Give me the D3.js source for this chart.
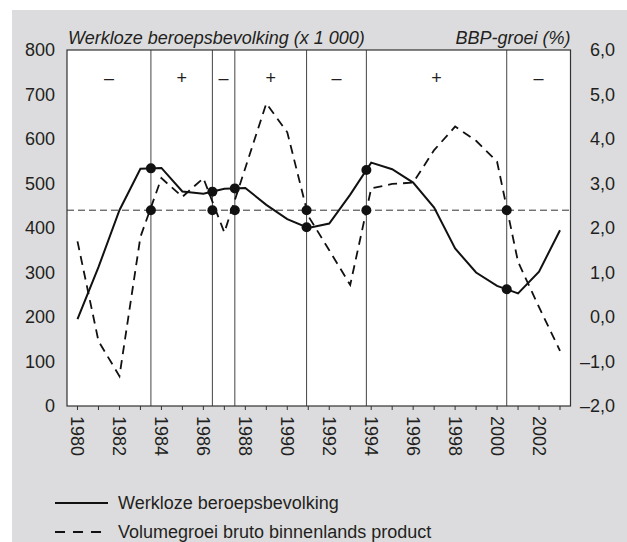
<!DOCTYPE html>
<html>
<head>
<meta charset="utf-8">
<script src="https://cdn.jsdelivr.net/npm/d3@7"></script>
<style>
  body { margin: 0; background: #fff; }
  svg text { font-family: "Liberation Sans", Arial, sans-serif; fill: #231f20; }
</style>
</head>
<body>
<div id="chart"></div>
<script>
const width = 627;
const height = 542;
const margin = ({top: 50, right: 57, bottom: 136, left: 67});
const fs = 18;

// data
const years = d3.range(1980, 2004);
const werkloos = [195, 312, 440, 533, 535, 482, 477, 488, 490, 452, 420, 400, 410, 475, 547, 532, 502, 446, 354, 300, 270, 253, 302, 395];
const bbpGroei = [1.7, -0.54, -1.33, 1.8, 3.12, 2.7, 3.12, 1.9, 3.35, 4.8, 4.15, 2.27, 1.5, 0.72, 2.89, 2.99, 3.02, 3.75, 4.28, 3.96, 3.49, 1.24, 0.22, -0.76];
const trendGroei = 2.4;
const omslagJaren = [1983.5, 1986.43, 1987.5, 1990.92, 1993.77, 2000.46];
const fasen = ['–', '+', '–', '+', '–', '+', '–'];
const leftTicks = [0, 100, 200, 300, 400, 500, 600, 700, 800];
const rightTicks = [-2, -1, 0, 1, 2, 3, 4, 5, 6];
const yearLabels = d3.range(1980, 2004, 2);

const svg = d3.select('#chart')
              .append('svg')
              .attr('width', width)
              .attr('height', height);

svg.append('rect')
   .attr('x', 12).attr('y', 10)
   .attr('width', width - 12).attr('height', height - 10)
   .attr('fill', '#dcdcde');

const x = d3.scaleLinear()
            .domain([1979.5, 2003.5])
            .range([margin.left, width - margin.right + 0.5]);
const yL = d3.scaleLinear()
             .domain([0, 800])
             .range([height - margin.bottom, margin.top]);
const yR = d3.scaleLinear()
             .domain([-2, 6])
             .range([height - margin.bottom, margin.top]);

// plot area
svg.append('rect')
   .attr('x', x.range()[0]).attr('y', margin.top)
   .attr('width', x.range()[1] - x.range()[0])
   .attr('height', yL.range()[0] - margin.top)
   .attr('fill', '#fff');

// year ticks
svg.append('g')
   .selectAll('line')
   .data(years)
   .join('line')
   .attr('x1', d => x(d)).attr('x2', d => x(d))
   .attr('y1', yL(0)).attr('y2', yL(0) + 4)
   .attr('stroke', '#333')
   .attr('stroke-width', 1);

svg.append('g')
   .selectAll('text')
   .data(yearLabels)
   .join('text')
   .attr('transform', d => `translate(${x(d)},${yL(0) + 10}) rotate(90)`)
   .attr('dy', '0.35em')
   .attr('font-size', fs)
   .text(d => d);

// cycle boundaries
svg.append('g')
   .selectAll('line')
   .data(omslagJaren)
   .join('line')
   .attr('x1', d => x(d)).attr('x2', d => x(d))
   .attr('y1', margin.top).attr('y2', yL(0))
   .attr('stroke', '#444')
   .attr('stroke-width', 1);

const grenzen = [1979.5, ...omslagJaren, 2003.5];
svg.append('g')
   .selectAll('text')
   .data(fasen)
   .join('text')
   .attr('x', (d, i) => (x(grenzen[i]) + x(grenzen[i + 1])) / 2)
   .attr('y', 84)
   .attr('text-anchor', 'middle')
   .attr('font-size', fs)
   .text(d => d);

// frame
svg.append('rect')
   .attr('x', x.range()[0]).attr('y', margin.top)
   .attr('width', x.range()[1] - x.range()[0])
   .attr('height', yL.range()[0] - margin.top)
   .attr('fill', 'none')
   .attr('stroke', '#333')
   .attr('stroke-width', 1.2);

// trend line
svg.append('line')
   .attr('x1', x.range()[0]).attr('x2', x.range()[1])
   .attr('y1', yR(trendGroei)).attr('y2', yR(trendGroei))
   .attr('stroke', '#333')
   .attr('stroke-width', 1)
   .attr('stroke-dasharray', '7,4');

const lineL = d3.line().x((d, i) => x(years[i])).y(d => yL(d));
const lineR = d3.line().x((d, i) => x(years[i])).y(d => yR(d));

svg.append('path')
   .datum(bbpGroei)
   .attr('d', lineR)
   .attr('fill', 'none')
   .attr('stroke', '#111')
   .attr('stroke-width', 1.8)
   .attr('stroke-dasharray', '9,6');

svg.append('path')
   .datum(werkloos)
   .attr('d', lineL)
   .attr('fill', 'none')
   .attr('stroke', '#111')
   .attr('stroke-width', 2);

// dots
const interpW = t => {
  const i = Math.floor(t - 1980);
  const f = t - 1980 - i;
  return werkloos[i] + (werkloos[i + 1] - werkloos[i]) * f;
};
svg.append('g')
   .selectAll('circle')
   .data(omslagJaren)
   .join('circle')
   .attr('cx', d => x(d)).attr('cy', yR(trendGroei))
   .attr('r', 5)
   .attr('fill', '#111');
svg.append('g')
   .selectAll('circle')
   .data(omslagJaren)
   .join('circle')
   .attr('cx', d => x(d)).attr('cy', d => yL(interpW(d)))
   .attr('r', 5)
   .attr('fill', '#111');

// axes labels
svg.append('g')
   .selectAll('text')
   .data(leftTicks)
   .join('text')
   .attr('x', 55)
   .attr('y', d => yL(d))
   .attr('dy', '0.35em')
   .attr('text-anchor', 'end')
   .attr('font-size', fs)
   .text(d => d);

svg.append('g')
   .selectAll('text')
   .data(rightTicks)
   .join('text')
   .attr('x', 615)
   .attr('y', d => yR(d))
   .attr('dy', '0.35em')
   .attr('text-anchor', 'end')
   .attr('font-size', fs)
   .text(d => d3.format('.1f')(d).replace('.', ',').replace('-', '–').replace('−', '–'));

svg.append('text')
   .attr('x', x.range()[0] + 1)
   .attr('y', 44)
   .attr('font-size', fs)
   .attr('font-style', 'italic')
   .text('Werkloze beroepsbevolking (x 1 000)');

svg.append('text')
   .attr('x', x.range()[1])
   .attr('y', 44)
   .attr('text-anchor', 'end')
   .attr('font-size', fs)
   .attr('font-style', 'italic')
   .text('BBP-groei (%)');

// legend
const legend = svg.append('g');
legend.append('line')
      .attr('x1', 55).attr('x2', 108)
      .attr('y1', 503).attr('y2', 503)
      .attr('stroke', '#111').attr('stroke-width', 2);
legend.append('text')
      .attr('x', 118).attr('y', 503)
      .attr('dy', '0.35em')
      .attr('font-size', fs)
      .text('Werkloze beroepsbevolking');
legend.append('line')
      .attr('x1', 55).attr('x2', 101)
      .attr('y1', 532).attr('y2', 532)
      .attr('stroke', '#111').attr('stroke-width', 2)
      .attr('stroke-dasharray', '10,8');
legend.append('text')
      .attr('x', 118).attr('y', 532)
      .attr('dy', '0.35em')
      .attr('font-size', fs)
      .text('Volumegroei bruto binnenlands product');
</script>
</body>
</html>
